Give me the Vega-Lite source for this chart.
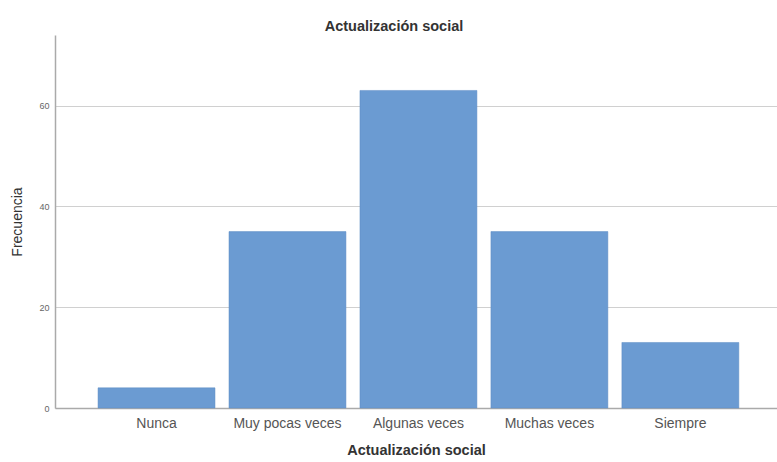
{
  "$schema": "https://vega.github.io/schema/vega-lite/v6.json",
  "autosize": {"type": "none"},
  "width": 722,
  "height": 373,
  "padding": {"left": 55, "top": 35, "right": 0, "bottom": 54},
  "background": "white",
  "title": {
    "text": "Actualización social",
    "font": "Liberation Sans",
    "fontSize": 14.5,
    "fontWeight": "bold",
    "color": "#333",
    "anchor": "middle",
    "dx": -22,
    "offset": 1
  },
  "data": {
    "values": [
      {"cat": "Nunca", "freq": 4},
      {"cat": "Muy pocas veces", "freq": 35},
      {"cat": "Algunas veces", "freq": 63},
      {"cat": "Muchas veces", "freq": 35},
      {"cat": "Siempre", "freq": 13}
    ]
  },
  "mark": {"type": "bar", "color": "#6b9bd2", "stroke": "#5f8cc4", "strokeWidth": 0.5},
  "encoding": {
    "x": {
      "field": "cat",
      "type": "nominal",
      "sort": null,
      "scale": {"paddingInner": 0.107, "paddingOuter": 0.31, "align": 0.53},
      "axis": {
        "title": "Actualización social",
        "titleFont": "Liberation Sans",
        "titleFontSize": 14.5,
        "titleFontWeight": "bold",
        "titleColor": "#333",
        "titlePadding": 13,
        "labelAngle": 0,
        "labelFont": "Liberation Sans",
        "labelFontSize": 14,
        "labelColor": "#555",
        "labelPadding": 8,
        "ticks": false,
        "domainColor": "#aaa",
        "domainWidth": 1.5
      }
    },
    "y": {
      "field": "freq",
      "type": "quantitative",
      "scale": {"domain": [0, 74], "nice": false},
      "axis": {
        "title": "Frecuencia",
        "titleFont": "Liberation Sans",
        "titleFontSize": 14,
        "titleFontWeight": "normal",
        "titleColor": "#333",
        "titlePadding": 14,
        "values": [0, 20, 40, 60],
        "labelFont": "Liberation Sans",
        "labelFontSize": 9,
        "labelColor": "#666",
        "labelPadding": 6,
        "ticks": false,
        "grid": true,
        "gridColor": "#d0d0d0",
        "gridWidth": 1,
        "domainColor": "#aaa",
        "domainWidth": 1.5
      }
    }
  },
  "config": {"view": {"stroke": null}}
}
